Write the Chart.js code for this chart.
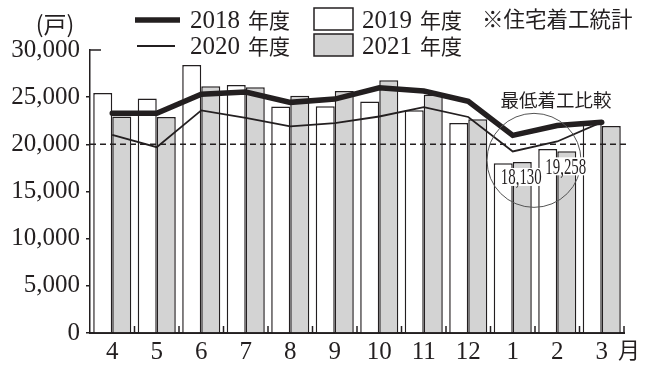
<!DOCTYPE html>
<html>
<head>
<meta charset="utf-8">
<script src="https://cdn.jsdelivr.net/npm/chart.js@4"></script>
<style>
  html, body { margin: 0; padding: 0; background: #fff; }
  #wrap { width: 650px; height: 379px; }
</style>
</head>
<body>
<div id="wrap"><canvas id="chart" width="650" height="379"></canvas></div>
<script>
const months = ['4', '5', '6', '7', '8', '9', '10', '11', '12', '1', '2', '3'];
const fy2018 = [23300, 23300, 25300, 25550, 24450, 24800, 26000, 25650, 24550, 20950, 22000, 22350];
const fy2019 = [25450, 24850, 28400, 26300, 24000, 24050, 24550, 23600, 22250, 18000, 19500, 22200];
const fy2020 = [21000, 19700, 23600, 22800, 21900, 22250, 22950, 23950, 22900, 19250, 20300, 22350];
const fy2021 = [22950, 22900, 26150, 26050, 25150, 25650, 26800, 25250, 22650, 18130, 19258, 21950];
const yTicks = [0, 5000, 10000, 15000, 20000, 25000, 30000];
const refLine = 20000;
const lowMonths = [9, 10]; // 1月, 2月 (2021年度の最低着工)

const INK = '#231f20';
const GRAY = '#d3d3d3';
const NUM_FONT = '"Liberation Serif", serif';
const JP_FONT = '"Noto Sans CJK JP", sans-serif';
const fmt = v => v.toLocaleString('en-US');

// legend, notes and the low-month circle are drawn by hand
const extras = {
  id: 'extras',
  afterDatasetsDraw(chart) {
    const { ctx, chartArea: a, scales: { x, y } } = chart;
    ctx.save();

    // 20,000 dashed line
    const yRef = y.getPixelForValue(refLine);
    ctx.strokeStyle = INK;
    ctx.lineWidth = 1.5;
    ctx.setLineDash([6, 4]);
    ctx.beginPath();
    ctx.moveTo(a.left, yRef);
    ctx.lineTo(a.right + 3, yRef);
    ctx.stroke();
    ctx.setLineDash([]);

    // circle round the lowest months
    const cx = (x.getPixelForValue(lowMonths[0]) + x.getPixelForValue(lowMonths[1])) / 2;
    const cy = y.getPixelForValue(18300);
    ctx.strokeStyle = '#555';
    ctx.lineWidth = 1;
    ctx.beginPath();
    ctx.arc(cx - 1, cy, 47, 0, Math.PI * 2);
    ctx.stroke();

    // value labels on the 2021 bars
    const meta = chart.getDatasetMeta(1);
    lowMonths.forEach(i => {
      const bar = meta.data[i];
      const txt = fmt(fy2021[i]);
      const ly = bar.y + 15;
      ctx.save();
      ctx.translate(bar.x - 1, ly);
      ctx.scale(0.62, 1);
      ctx.font = '24px ' + NUM_FONT;
      const w = ctx.measureText(txt).width;
      ctx.fillStyle = '#fff';
      ctx.fillRect(-w / 2 - 3, -9, w + 6, 18);
      ctx.fillStyle = INK;
      ctx.textAlign = 'center';
      ctx.textBaseline = 'middle';
      ctx.fillText(txt, 0, 1);
      ctx.restore();
    });

    ctx.fillStyle = INK;
    ctx.font = '18.5px ' + JP_FONT;
    ctx.textAlign = 'center';
    ctx.textBaseline = 'middle';
    ctx.fillText('最低着工比較', cx + 21, 100);

    // small ticks on the category axis, pointing up
    ctx.strokeStyle = INK;
    ctx.lineWidth = 1.5;
    const step = (a.right - a.left) / months.length;
    for (let i = 1; i <= months.length; i++) {
      const tx = a.left + step * i;
      ctx.beginPath();
      ctx.moveTo(tx, a.bottom);
      ctx.lineTo(tx, a.bottom - 7);
      ctx.stroke();
    }
    // top tick of the value axis points right
    const yTop = y.getPixelForValue(yTicks[yTicks.length - 1]);
    ctx.beginPath();
    ctx.moveTo(a.left, yTop);
    ctx.lineTo(a.left + 11, yTop);
    ctx.stroke();
    ctx.restore();
  },
  afterDraw(chart) {
    const { ctx, chartArea: a } = chart;
    ctx.save();
    ctx.fillStyle = INK;
    ctx.textBaseline = 'middle';

    const label = (num, lx, ly) => {
      ctx.font = '25px ' + NUM_FONT;
      ctx.textAlign = 'left';
      ctx.fillText(num, lx, ly + 1);
      const w = ctx.measureText(num).width;
      ctx.font = '21px ' + JP_FONT;
      ctx.fillText('年度', lx + w + 8, ly);
    };

    // legend: lines
    ctx.strokeStyle = INK;
    ctx.lineWidth = 5.5;
    ctx.beginPath(); ctx.moveTo(135, 20); ctx.lineTo(180, 20); ctx.stroke();
    ctx.lineWidth = 2;
    ctx.beginPath(); ctx.moveTo(137, 46); ctx.lineTo(175, 46); ctx.stroke();
    label('2018', 190, 20);
    label('2020', 190, 46);

    // legend: boxes
    ctx.lineWidth = 1.5;
    ctx.fillStyle = '#fff';
    ctx.fillRect(314, 8, 39, 22); ctx.strokeRect(314, 8, 39, 22);
    ctx.fillStyle = GRAY;
    ctx.fillRect(314, 34, 39, 22); ctx.strokeRect(314, 34, 39, 22);
    ctx.fillStyle = INK;
    label('2019', 362, 20);
    label('2021', 362, 46);

    ctx.font = '21.5px ' + JP_FONT;
    ctx.textAlign = 'left';
    ctx.fillText('※住宅着工統計', 482, 19);

    ctx.font = '23px ' + JP_FONT;
    ctx.textAlign = 'center';
    ctx.fillText('(戸)', 55, 24);

    // unit after the last month
    ctx.font = '22px ' + JP_FONT;
    ctx.textAlign = 'left';
    ctx.fillText('月', a.right - 6, a.bottom + 17);
    ctx.restore();
  }
};

new Chart(document.getElementById('chart'), {
  type: 'bar',
  data: {
    labels: months,
    datasets: [
      { label: '2019 年度', data: fy2019, backgroundColor: '#fff', borderColor: INK, borderWidth: 1.5, order: 1 },
      { label: '2021 年度', data: fy2021, backgroundColor: GRAY, borderColor: INK, borderWidth: 1.5, order: 1 },
      { type: 'line', label: '2018 年度', data: fy2018, borderColor: INK, borderWidth: 5.5, pointRadius: 0, borderCapStyle: 'round', order: 0 },
      { type: 'line', label: '2020 年度', data: fy2020, borderColor: INK, borderWidth: 1.8, pointRadius: 0, order: 0 }
    ]
  },
  options: {
    responsive: false,
    animation: false,
    barPercentage: 1,
    categoryPercentage: 0.855,
    layout: { padding: { top: 50, right: 26, left: 0, bottom: 0 } },
    plugins: { legend: { display: false }, tooltip: { enabled: false } },
    scales: {
      x: {
        grid: { display: false },
        border: { display: true, color: INK, width: 2 },
        ticks: { color: INK, font: { family: NUM_FONT, size: 25 }, padding: -4, maxRotation: 0, autoSkip: false },
        afterFit: s => { s.height = 46; }
      },
      y: {
        min: 0, max: 30000,
        afterBuildTicks: s => { s.ticks = yTicks.map(v => ({ value: v })); },
        grid: {
          drawOnChartArea: false, tickLength: 4,
          color: c => (c.tick && c.tick.value === 30000 ? 'rgba(0,0,0,0)' : INK), lineWidth: 1.5
        },
        border: { display: true, color: INK, width: 1.5 },
        ticks: { color: INK, font: { family: NUM_FONT, size: 25 }, padding: 6, callback: v => fmt(v) },
        afterFit: s => { s.width = 90; }
      }
    }
  },
  plugins: [extras]
});
</script>
</body>
</html>
